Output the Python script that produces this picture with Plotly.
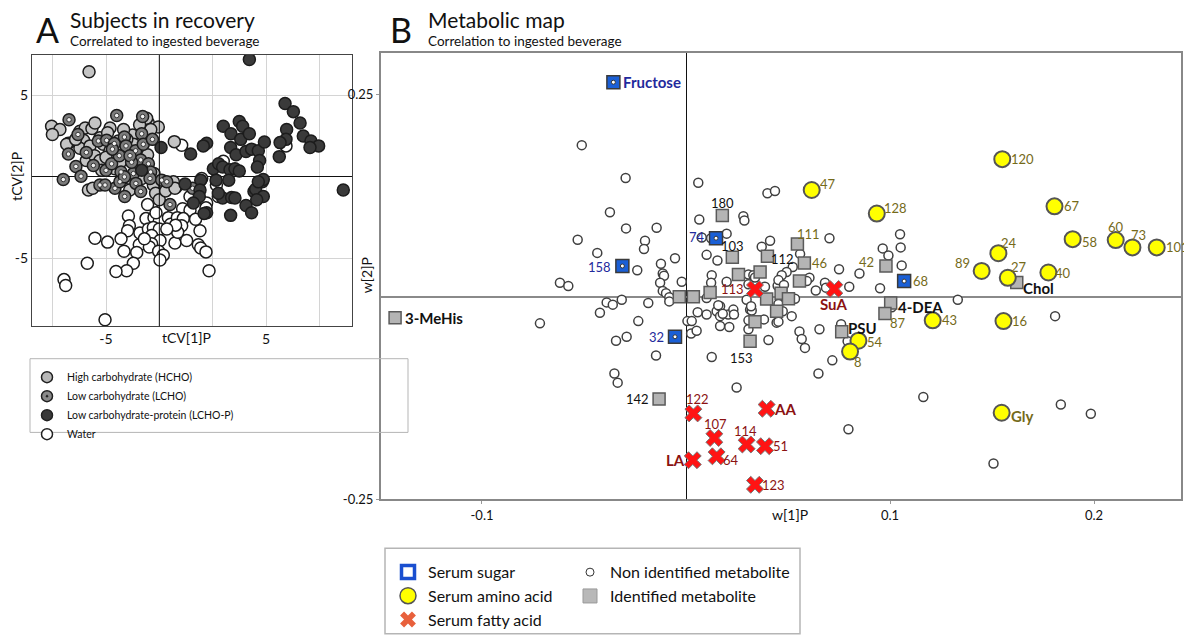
import plotly.graph_objects as go

W, H = 1184, 637
FONT = "Lato"

# ---------------- Panel A: subjects (tCV scores) ----------------
hcho_x = [-6.06, -8.4, -7.88, -8.35, -7.35, -6.63, -6.3, -5.88, -5.69, -4.75, -2.35, -2.46, -1.73, -2.2,
          -3.33, -0.73, -6.4, -6.63, -6.0, -5.38, -5.17, -4.75, -4.23, -4.0, -3.52, -3.27, -2.71, -2.4,
          -6.23, -5.71, -5.38, -4.54, -3.6, -5.27, -4.44, -3.5, -2.77, -2.46, -6.1, -5.83, -3.52, -2.04,
          -1.9, -1.67, -1.27, -0.79, -0.69, -7.46, -4.9, -3.9, -5.0, -4.1, -3.0, -2.0, -6.9, -3.7, -2.9]
hcho_y = [6.44, 3.1, 2.9, 2.6, 2.06, 2.8, 3.0, 2.96, 3.3, 3.0, 3.3, 3.6, 3.06, 2.9,
          2.56, 2.16, 2.24, 1.76, 1.9, 2.4, 2.0, 1.6, 2.2, 1.64, 1.6, 2.0, 1.5, 1.36,
          1.0, 1.3, 1.0, 1.0, 1.2, 0.4, 0.5, -0.1, -0.1, 0.6, -0.8, -0.7, -0.8, -0.5,
          -1.0, -1.4, -0.86, -0.3, -0.7, 2.0, 2.7, 2.9, 1.2, 0.9, 1.1, 0.2, 2.3, 2.3, 3.2]

lcho_x = [-7.31, -4.33, -2.71, -7.67, -7.35, -6.88, -6.56, -6.75, -6.23, -5.48, -4.96, -4.48, -3.85, -3.75,
          -3.15, -2.77, -2.67, -2.83, -2.35, -2.21, -5.0, -4.65, -4.44, -4.06, -3.83, -3.29, -3.13, -2.83,
          -2.25, -1.52, -1.0, 0.42, -5.79, -5.38, -5.06, -4.13, -3.4, -4.17, -3.85, -1.2, -4.6, -3.5, -2.1]
lcho_y = [3.5, 3.76, 3.7, -0.16, 1.4, 0.64, 0.04, 2.6, 1.5, 2.2, 2.24, 2.04, 2.44, 1.9,
          1.6, 2.64, 2.0, 1.04, 0.8, 0.3, 0.4, 0.8, -0.7, 0.3, -1.2, 0.2, -0.4, -0.9,
          -0.1, -0.2, -1.7, -0.7, 0.7, -0.5, -0.5, -0.3, 0.9, 1.3, 0.0, -0.3, 1.7, 1.3, 2.3]

lchop_x = [3.96, 9.83, 6.19, 6.71, 7.13, 6.29, 7.33, 7.81, 8.29, 7.75, 6.25, 5.88, 5.83, 2.33, 2.81,
           3.33, 3.54, 3.42, 3.96, 1.29, 1.08, 2.79, 3.13, 3.75, 4.1, 4.52, 4.9, 4.6, 4.46, 0.29,
           -1.56, 1.71, 2.04, 2.29, 2.75, 3.06, 3.33, 1.88, 2.67, 0.92, 0.875, 0.83, 0.46, -0.06,
           2.29, 2.85, 3.06, 3.75, 4.1, 2.79, 1.29, 1.13, 4.25, 4.35, 4.77, 4.83, 4.52, 4.83, 4.42,
           -2.77, 2.02]
lchop_y = [7.2, -0.8, 4.5, 4.0, 3.3, 2.9, 2.5, 2.2, 1.9, 1.8, 2.3, 2.1, 1.24, 3.1, 2.64,
           3.4, 3.1, 2.3, 2.64, 2.06, 1.9, 1.8, 1.36, 1.56, 1.7, 1.6, 2.14, 1.0, 0.6, 1.4,
           1.8, 0.5, 0.8, 0.6, 0.44, 0.5, 0.36, -0.2, -0.2, -0.2, -0.8, -1.2, -1.6, -0.44,
           -1.3, -1.26, -1.3, -1.76, -2.2, -2.36, -2.2, -2.24, -0.9, -0.76, -0.3, -0.16, -0.3, -1.2, -1.4,
           0.4, -1.0]

water_x = [-0.27, 6.25, 2.33, -0.625, 0.98, 2.02, 1.29, 1.25, 0.25, -0.21, 0.25, -2.4, -1.48, -3.6,
           -2.5, -2.0, -1.67, -1.1, -0.96, -0.54, -0.17, -0.27, -3.54, -3.65, -2.88, -2.35, -2.04, -1.67,
           -2.15, -0.69, -0.52, 0.04, 0.875, 0.77, 0.92, 1.25, -1.625, -2.15, -2.92, -3.08, -3.875, -4.06,
           -4.9, -5.69, -2.29, -1.71, -1.42, -1.625, -3.29, -3.71, -4.375, -6.17, 1.44, -7.625, -7.52,
           -5.06, -0.65, -1.2, -2.6, -1.875, 0.6, 1.9]
water_y = [1.94, 1.9, 0.96, -0.64, -0.1, -1.2, -1.6, -1.9, -1.2, -1.96, -2.04, -1.7, -2.0, -2.4,
           -2.56, -2.5, -2.7, -2.5, -2.9, -2.5, -2.56, -3.0, -3.0, -3.3, -3.44, -3.2, -3.1, -3.2,
           -3.6, -4.06, -3.4, -3.9, -3.3, -4.16, -4.36, -4.6, -3.9, -4.1, -4.16, -4.64, -4.56, -3.8,
           -4.0, -3.76, -4.3, -4.56, -4.8, -5.1, -5.3, -5.76, -5.8, -5.3, -5.76, -6.3, -6.66,
           -8.76, -2.96, -3.2, -3.8, -2.2, -2.6, -0.5]

# ---------------- Panel B: metabolites (w loadings) ----------------
sugar_names = ["Fructose", "158", "74", "32", "68"]
sugar_x = [-0.0356, -0.0312, 0.0147, -0.0054, 0.1069]
sugar_y = [0.265, 0.038, 0.0724, -0.0494, 0.0194]

amino_names = ["47", "128", "120", "67", "58", "60", "73", "101", "24", "89", "27", "40", "43", "16",
               "54", "8", "Gly"]
amino_x = [0.0616, 0.0935, 0.155, 0.1806, 0.1895, 0.2106, 0.2188, 0.2307, 0.1531, 0.1449, 0.1577,
           0.1776, 0.1209, 0.1556, 0.0845, 0.0804, 0.1547]
amino_y = [0.1319, 0.1028, 0.170, 0.1117, 0.0712, 0.070, 0.061, 0.061, 0.0538, 0.0319, 0.0235,
           0.030, -0.0291, -0.030, -0.0542, -0.0676, -0.1432]

fatty_names = ["113", "SuA", "AA", "122", "107", "114", "51", "64", "LA", "123"]
fatty_x = [0.0338, 0.0727, 0.0395, 0.0036, 0.0139, 0.0297, 0.0387, 0.015, 0.0033, 0.0338]
fatty_y = [0.0093, 0.0097, -0.1383, -0.144, -0.1744, -0.1824, -0.1845, -0.197, -0.2018, -0.2322]

ident_names = ["3-MeHis", "180", "103", "112", "111", "46", "42", "Chol", "4-DEA", "87", "PSU", "153",
               "142", "", "", "", "", "", "", "", "", "", "", ""]
ident_x = [-0.1426, 0.0178, 0.0227, 0.0399, 0.0546, 0.058, 0.098, 0.1621, 0.1003, 0.0975, 0.0763,
           0.0314, -0.0132, -0.0033, 0.0036, 0.0118, 0.0257, 0.0363, 0.0395, 0.0338, 0.0444, 0.0466,
           0.0502, 0.0556]
ident_y = [-0.0259, 0.1003, 0.0489, 0.050, 0.0651, 0.0417, 0.038, 0.0178, -0.0077, -0.0206, -0.0433,
           -0.055, -0.1262, 0.0, 0.0, 0.0052, 0.0275, 0.0307, -0.0028, -0.0307, -0.0178, 0.0045,
           -0.0024, 0.0194]

unid_x = [-0.0511, -0.0296, 0.006, -0.0373, -0.0294, -0.0144, 0.0065, 0.0281, 0.0286, 0.0399, 0.0436,
          -0.0531, -0.0201, -0.0206, -0.0435, -0.0054, -0.0239, -0.0123, -0.0114, -0.0108, -0.0127,
          -0.0021, -0.0114, -0.0098, -0.0618, -0.0577, 0.0199, 0.0123, 0.0101, 0.0154, 0.0371, 0.0412,
          0.0126, 0.0123, 0.0199, 0.0306, 0.033, 0.0338, 0.0306, 0.0449, -0.0389, -0.0359, -0.0315,
          -0.0422, -0.0185, -0.0082, -0.0082, -0.0234, -0.0716, -0.0343, -0.0291, -0.0147, -0.0351,
          -0.0335, 0.0007, 0.0028, 0.0025, 0.0101, 0.0057, 0.0101, 0.015, 0.0167, 0.0167, 0.0207,
          0.0232, 0.0167, 0.0212, 0.0297, 0.0314, 0.0322, 0.0306, 0.0382, 0.0306, 0.0404, 0.0126,
          0.0248, 0.0444, 0.0559, 0.0703, 0.0523, 0.0493, 0.0469, 0.0453, 0.0605, 0.0592, 0.075,
          0.0681, 0.0686, 0.0636, 0.080, 0.085, 0.0951, 0.0964, 0.1049, 0.1052, 0.1057, 0.048,
          0.0534, 0.0453, 0.0474, 0.0518, 0.0453, 0.0556, 0.0654, 0.076, 0.1008, 0.0992, 0.1332,
          0.1809, 0.0567, 0.0583, 0.0717, 0.0649, 0.0792, 0.1163, 0.0796, 0.1837, 0.1984, 0.1507,
          0.0077, 0.0158, 0.018, 0.0235, 0.0319, 0.0387, 0.0052]
unid_y = [0.1873, 0.1468, 0.1408, 0.1044, 0.0845, 0.0853, 0.0955, 0.0995, 0.0943, 0.1278, 0.1307,
          0.0704, 0.0692, 0.0591, 0.0542, 0.0477, 0.0328, 0.0409, 0.0287, 0.0259, 0.0174,
          0.0186, 0.0073, 0.0045, 0.0174, 0.0134, 0.078, 0.0724, 0.0518, 0.0449, 0.0619, 0.0692,
          0.0267, 0.0174, 0.0186, 0.0275, 0.0267, 0.0239, 0.0154, 0.0137, -0.0069, -0.0097, -0.0036,
          -0.0198, -0.0077, -0.0005, -0.0057, -0.03, -0.0328, -0.0542, -0.0494, -0.0724, -0.0947,
          -0.106, -0.03, -0.03, -0.0453, -0.0016, -0.019, -0.0218, -0.0178, -0.0117, -0.0239, -0.0218,
          -0.0158, -0.036, -0.0372, -0.0036, -0.0158, -0.017, -0.0291, -0.0279, -0.04, -0.0534, -0.0744,
          -0.112, -0.0319, 0.053, 0.0724, 0.0368, 0.0307, 0.0267, 0.0206, 0.0235, 0.0194, 0.034,
          0.0174, 0.0113, 0.0077, 0.0125, 0.0287, 0.0105, 0.0598, 0.0773, 0.061, 0.0388, 0.0146,
          -0.0024, -0.0089, -0.0178, -0.0239, -0.0307, -0.0429, -0.04, -0.034, -0.013, 0.051, -0.0036,
          -0.0239, -0.0522, -0.0631, -0.0785, -0.0947, -0.055, -0.1238, -0.1635, -0.1331, -0.1444, -0.2059,
          0.0732, -0.0105, -0.021, -0.0218, -0.0117, 0.0125, -0.042]

# ---------------- styles ----------------
NAVY = "#1f2a9c"
OLIVE = "#756a1a"
DRED = "#8b1212"
BLACK = "#111111"

# label placement: (xanchor, xshift, yshift, bold, color)
sugar_lab = [("left", 8, 0, True, NAVY), ("right", -9, -1, False, NAVY), ("right", -9, 1, False, NAVY),
             ("right", -9, 0, False, NAVY), ("left", 7, 0, False, OLIVE)]
amino_lab = [("left", 6, 6, False, OLIVE), ("left", 5, 6, False, OLIVE), ("left", 7, 0, False, OLIVE),
             ("left", 7, 0, False, OLIVE), ("left", 7, -3, False, OLIVE), ("center", 0, 13, False, OLIVE),
             ("center", 6, 12, False, OLIVE), ("left", 7, 0, False, OLIVE), ("left", 1, 10, False, OLIVE),
             ("right", -10, 8, False, OLIVE), ("left", 1, 11, False, OLIVE), ("left", 5, 0, False, OLIVE),
             ("left", 7, 0, False, OLIVE), ("left", 7, 0, False, OLIVE), ("left", 7, -1, False, OLIVE),
             ("left", 2, -10, False, OLIVE), ("left", 7, -3, True, OLIVE)]
fatty_lab = [("right", -9, 0, False, DRED), ("center", 0, -15, True, DRED), ("left", 5, 0, True, DRED),
             ("center", 4, 14, False, DRED), ("center", 1, 14, False, DRED), ("center", -1, 13, False, DRED),
             ("left", 6, 0, False, DRED), ("left", 4, -4, False, DRED), ("right", -6, 0, True, DRED),
             ("left", 5, 0, False, DRED)]
ident_lab = [("left", 8, 0, True, BLACK), ("center", 0, 13, False, BLACK), ("center", 0, 11, False, BLACK),
             ("left", 2, -3, False, BLACK), ("left", -2, 10, False, OLIVE), ("left", 6, 0, False, OLIVE),
             ("right", -10, 4, False, OLIVE), ("left", 4, -6, True, BLACK), ("left", 5, -4, True, BLACK),
             ("left", 3, -10, False, OLIVE), ("left", 4, 4, True, BLACK), ("center", -9, -17, False, BLACK),
             ("right", -8, 0, False, BLACK)]

fig = go.Figure()

# ----- Panel A traces -----
ptA = dict(size=12, line=dict(color="#1c1c1c", width=1.5))
fig.add_trace(go.Scatter(x=water_x, y=water_y, mode="markers", showlegend=False, hoverinfo="skip",
                         marker=dict(color="#ffffff", **ptA), xaxis="x", yaxis="y"))
fig.add_trace(go.Scatter(x=hcho_x, y=hcho_y, mode="markers", showlegend=False, hoverinfo="skip",
                         marker=dict(color="#c4c4c4", **ptA), xaxis="x", yaxis="y"))
fig.add_trace(go.Scatter(x=lcho_x, y=lcho_y, mode="markers", showlegend=False, hoverinfo="skip",
                         marker=dict(color="#7b7b7b", **ptA), xaxis="x", yaxis="y"))
fig.add_trace(go.Scatter(x=lcho_x, y=lcho_y, mode="markers", showlegend=False, hoverinfo="skip",
                         marker=dict(color="#f0f0f0", size=4.5, line=dict(color="#333", width=1)),
                         xaxis="x", yaxis="y"))
fig.add_trace(go.Scatter(x=lchop_x, y=lchop_y, mode="markers", showlegend=False, hoverinfo="skip",
                         marker=dict(color="#3a3a3a", **ptA), xaxis="x", yaxis="y"))

# Panel A legend entries
legA = [("High carbohydrate (HCHO)", "circle", "#b8b8b8"),
        ("Low carbohydrate (LCHO)", "circle-dot", "#8a8a8a"),
        ("Low carbohydrate-protein (LCHO-P)", "circle", "#3a3a3a"),
        ("Water", "circle", "#ffffff")]
for name, sym, col in legA:
    fig.add_trace(go.Scatter(x=[None], y=[None], mode="markers", name=name, legend="legend",
                             marker=dict(symbol=sym, color=col, size=11, line=dict(color="#222", width=1.5)),
                             xaxis="x", yaxis="y"))

# ----- Panel B traces -----
fig.add_trace(go.Scatter(x=unid_x, y=unid_y, mode="markers", showlegend=False, hoverinfo="skip",
                         marker=dict(color="#ffffff", size=9, line=dict(color="#404040", width=1.5)),
                         xaxis="x2", yaxis="y2"))
fig.add_trace(go.Scatter(x=ident_x, y=ident_y, mode="markers", showlegend=False, hoverinfo="skip",
                         marker=dict(symbol="square", color="#b4b4b4", size=12,
                                     line=dict(color="#5a5a5a", width=1.5)),
                         xaxis="x2", yaxis="y2"))
fig.add_trace(go.Scatter(x=sugar_x, y=sugar_y, mode="markers", showlegend=False, hoverinfo="skip",
                         marker=dict(symbol="square", color="#1a5fd6", size=13,
                                     line=dict(color="#3a3a3a", width=1.5)),
                         xaxis="x2", yaxis="y2"))
fig.add_trace(go.Scatter(x=sugar_x, y=sugar_y, mode="markers", showlegend=False, hoverinfo="skip",
                         marker=dict(color="#ffffff", size=4, line=dict(color="#333", width=1)),
                         xaxis="x2", yaxis="y2"))
fig.add_trace(go.Scatter(x=amino_x, y=amino_y, mode="markers", showlegend=False, hoverinfo="skip",
                         marker=dict(color="#ffff00", size=16, line=dict(color="#555555", width=2)),
                         xaxis="x2", yaxis="y2"))
fig.add_trace(go.Scatter(x=fatty_x, y=fatty_y, mode="markers", showlegend=False, hoverinfo="skip",
                         marker=dict(symbol="x", color="#ff1414", size=15, line=dict(color="#777777", width=1)),
                         xaxis="x2", yaxis="y2"))

# Panel B legend entries (two columns)
legB1 = [("Serum sugar", dict(symbol="square", color="#ffffff", size=13, line=dict(color="#1a4fd0", width=3.5))),
         ("Serum amino acid", dict(symbol="circle", color="#ffff00", size=16, line=dict(color="#555", width=1.5))),
         ("Serum fatty acid", dict(symbol="x", color="#e8603c", size=14, line=dict(color="#e8603c", width=0)))]
legB2 = [("Non identified metabolite", dict(symbol="circle", color="#ffffff", size=8, line=dict(color="#333", width=1))),
         ("Identified metabolite", dict(symbol="square", color="#b8b8b8", size=14, line=dict(color="#999", width=1)))]
for name, mk in legB1:
    fig.add_trace(go.Scatter(x=[None], y=[None], mode="markers", name=name, legend="legend2",
                             marker=mk, xaxis="x2", yaxis="y2"))
for name, mk in legB2:
    fig.add_trace(go.Scatter(x=[None], y=[None], mode="markers", name=name, legend="legend3",
                             marker=mk, xaxis="x2", yaxis="y2"))

# ----- annotations -----
ann = []
def lab(names, xs, ys, styles):
    for n, x, y, st in zip(names, xs, ys, styles):
        if not n:
            continue
        anchor, dx, dy, bold, col = st
        ann.append(dict(x=x, y=y, xref="x2", yref="y2", text=f"<b>{n}</b>" if bold else n,
                        showarrow=False, xanchor=anchor, yanchor="middle", xshift=dx, yshift=dy,
                        font=dict(family=FONT, size=15 if bold else 13, color=col)))

lab(sugar_names, sugar_x, sugar_y, sugar_lab)
lab(amino_names, amino_x, amino_y, amino_lab)
lab(fatty_names, fatty_x, fatty_y, fatty_lab)
lab(ident_names[:len(ident_lab)], ident_x, ident_y, ident_lab)

def txt(px, py, text, size, anchor="left", angle=0, color="#111"):
    ann.append(dict(x=px / W, y=1 - py / H, xref="paper", yref="paper", text=text, showarrow=False,
                    xanchor=anchor, yanchor="middle", textangle=angle,
                    font=dict(family=FONT, size=size, color=color)))

txt(47, 30, "A", 34, "center")
txt(68, 20, "Subjects in recovery", 21)
txt(68, 42, "Correlated to ingested beverage", 13.5)
txt(401, 30, "B", 34, "center")
txt(426, 20, "Metabolic map", 21)
txt(426, 42, "Correlation to ingested beverage", 13.5)
txt(17, 180, "tCV[2]P", 14, "center", -90)
txt(186, 343, "tCV[1]P", 14, "center")
txt(366, 280, "w[2]P", 14, "center", -90)
txt(790, 524, "w[1]P", 14, "center")

shapes = [
    dict(type="line", xref="x", yref="y domain", x0=-5 / 3, x1=-5 / 3, y0=0, y1=1,
         line=dict(color="#111", width=1)),
    dict(type="rect", xref="paper", yref="paper", x0=30 / W, x1=408 / W, y0=1 - 440 / H, y1=1 - 365 / H,
         line=dict(color="#b5b5b5", width=1)),
    dict(type="rect", xref="paper", yref="paper", x0=385 / W, x1=800 / W, y0=1 - 645 / H, y1=1 - 558 / H,
         line=dict(color="#b5b5b5", width=1.5)),
]

fig.update_layout(
    width=W, height=H, autosize=False,
    margin=dict(l=0, r=0, t=0, b=0),
    paper_bgcolor="white", plot_bgcolor="white",
    font=dict(family=FONT, size=13, color="#111"),
    annotations=ann, shapes=shapes,
    xaxis=dict(domain=[32 / W, 352 / W], range=[-9.625, 10.375], anchor="y",
               tickvals=[-25 / 3, -5, -5 / 3, 5 / 3, 5, 25 / 3], ticktext=["", "-5", "", "", "5", ""],
               showgrid=True, gridcolor="#d4d4d4", gridwidth=1, zeroline=False,
               showline=True, linecolor="#444", linewidth=1, mirror=True, ticks="",
               tickfont=dict(size=14)),
    yaxis=dict(domain=[1 - 332 / H, 1 - 56 / H], range=[-9.16, 7.47], anchor="x",
               tickvals=[-5, 0, 5], ticktext=["-5", "", "5"],
               showgrid=True, gridcolor="#d4d4d4", gridwidth=1,
               zeroline=True, zerolinecolor="#111", zerolinewidth=1,
               showline=True, linecolor="#444", linewidth=1, mirror=True, ticks="",
               tickfont=dict(size=14)),
    xaxis2=dict(domain=[381 / W, 1181 / W], range=[-0.1495, 0.2426], anchor="y2",
                tickvals=[-0.1, 0.1, 0.2], ticktext=["-0.1", "0.1", "0.2"],
                showgrid=False, zeroline=True, zerolinecolor="#111", zerolinewidth=1,
                showline=True, linecolor="#888", linewidth=2, mirror=True,
                ticks="outside", ticklen=3, tickcolor="#999", tickfont=dict(size=13)),
    yaxis2=dict(domain=[1 - 508 / H, 1 - 54 / H], range=[-0.25, 0.301], anchor="x2",
                tickvals=[0.25, -0.25], ticktext=["0.25", "-0.25"],
                showgrid=False, zeroline=True, zerolinecolor="#8a8a8a", zerolinewidth=2,
                showline=True, linecolor="#888", linewidth=2, mirror=True,
                ticks="outside", ticklen=3, tickcolor="#999", tickfont=dict(size=13)),
    legend=dict(x=27 / W, y=1 - 369 / H, xanchor="left", yanchor="top", bgcolor="rgba(0,0,0,0)",
                font=dict(family=FONT, size=10.5, color="#111"), itemwidth=30, tracegroupgap=0),
    legend2=dict(x=388 / W, y=1 - 565 / H, xanchor="left", yanchor="top", bgcolor="rgba(0,0,0,0)",
                 font=dict(family=FONT, size=16, color="#111"), itemwidth=30),
    legend3=dict(x=570 / W, y=1 - 565 / H, xanchor="left", yanchor="top", bgcolor="rgba(0,0,0,0)",
                 font=dict(family=FONT, size=16, color="#111"), itemwidth=30),
)

fig.write_html("out.html", config={"displayModeBar": False},
               post_script="document.body.style.margin='0px';")
